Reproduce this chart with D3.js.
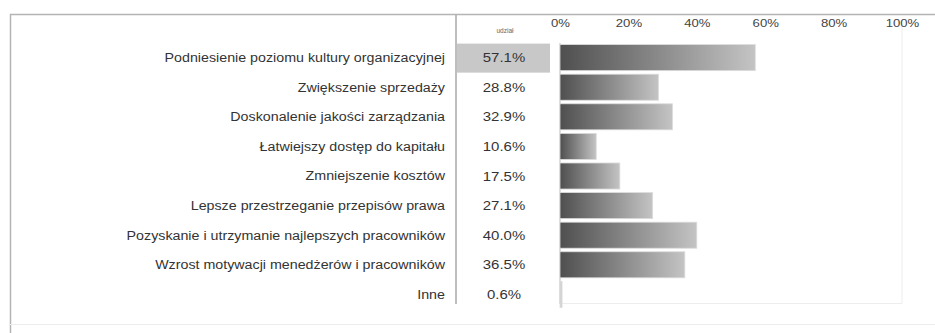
<!DOCTYPE html>
<html>
<head>
<meta charset="utf-8">
<script src="https://cdn.jsdelivr.net/npm/d3@7"></script>
<style>
  html, body { margin: 0; padding: 0; background: #fff; }
  svg { display: block; }
  text { font-family: "Liberation Sans", Arial, sans-serif; }
</style>
</head>
<body>
<svg id="chart" width="935" height="333"></svg>
<script>
// Korzyści z wdrożenia — odsetek wskazań
const categories = [
  "Podniesienie poziomu kultury organizacyjnej",
  "Zwiększenie sprzedaży",
  "Doskonalenie jakości zarządzania",
  "Łatwiejszy dostęp do kapitału",
  "Zmniejszenie kosztów",
  "Lepsze przestrzeganie przepisów prawa",
  "Pozyskanie i utrzymanie najlepszych pracowników",
  "Wzrost motywacji menedżerów i pracowników",
  "Inne"
];
const shares = [57.1, 28.8, 32.9, 10.6, 17.5, 27.1, 40.0, 36.5, 0.6];
const tickValues = [0, 20, 40, 60, 80, 100];
const columnHeader = "udział";

const svg = d3.select("#chart");

const x = d3.scaleLinear().domain([0, 100]).range([560, 902]);
const y = d3.scaleBand().domain(categories).range([44, 308]).paddingInner(0.12).paddingOuter(0.02);

// widen glyphs horizontally by a factor, keeping the anchor point
function stretch(sel, k) {
  sel.each(function () {
    const w = this.getComputedTextLength();
    d3.select(this).attr("textLength", w * k).attr("lengthAdjust", "spacingAndGlyphs");
  });
}

const defs = svg.append("defs");
const grad = defs.append("linearGradient")
  .attr("id", "barGrad").attr("x1", 0).attr("y1", 0).attr("x2", 1).attr("y2", 0);
grad.append("stop").attr("offset", 0).attr("stop-color", "#4f4f4f");
grad.append("stop").attr("offset", 1).attr("stop-color", "#c4c4c4");

// outer frame
svg.append("path")
  .attr("d", "M10.5,333 V14.5 H935")
  .attr("fill", "none").attr("stroke", "#b4b4b4").attr("stroke-width", 1.5);
svg.append("line")
  .attr("x1", 10).attr("x2", 935).attr("y1", 324.5).attr("y2", 324.5)
  .attr("stroke", "#ececec").attr("stroke-width", 1);

// divider between labels and value column
svg.append("line")
  .attr("x1", 456).attr("x2", 456).attr("y1", 15).attr("y2", 304)
  .attr("stroke", "#a8a8a8").attr("stroke-width", 1.5);

// plot area frame
const [x0, x1] = x.range();
svg.append("path")
  .attr("d", `M${x0},43 V303.5 H${x1} V20`)
  .attr("fill", "none").attr("stroke", "#ededed").attr("stroke-width", 1);
svg.append("line")
  .attr("x1", x0).attr("x2", x0).attr("y1", 43).attr("y2", 304)
  .attr("stroke", "#d4d4d4").attr("stroke-width", 1.5);

// top axis with percentage ticks
const axis = svg.append("g")
  .attr("transform", "translate(0,27)")
  .call(d3.axisTop(x).tickValues(tickValues).tickFormat(d => d + "%").tickSize(0).tickPadding(0));
axis.select(".domain").remove();
axis.selectAll("text")
  .attr("font-size", 10.5).attr("fill", "#444")
  .style("font-family", "'Liberation Sans', Arial, sans-serif")
  .call(stretch, 1.25);

// value column header
svg.append("text")
  .attr("x", 505).attr("y", 33)
  .attr("text-anchor", "middle").attr("font-size", 6.5).attr("fill", "#666")
  .text(columnHeader);

// highlight of the leading value
svg.append("rect")
  .attr("x", 457).attr("y", y(categories[0]) - 1)
  .attr("width", 93).attr("height", y.bandwidth() + 3)
  .attr("fill", "#c8c8c8");

// bars
svg.append("g").selectAll("rect")
  .data(categories)
  .join("rect")
  .attr("x", x(0))
  .attr("y", d => y(d))
  .attr("width", (d, i) => Math.max(1.5, x(shares[i]) - x(0)))
  .attr("height", y.bandwidth())
  .attr("fill", (d, i) => shares[i] < 2 ? "#d0d0d0" : "url(#barGrad)")
  .attr("stroke", "#dcdcdc").attr("stroke-width", 0.8);

// category labels
svg.append("g").selectAll("text")
  .data(categories)
  .join("text")
  .attr("x", 445)
  .attr("y", d => y(d) + y.bandwidth() / 2)
  .attr("dy", "0.35em")
  .attr("text-anchor", "end")
  .attr("font-size", 12.5)
  .attr("fill", "#333")
  .text(d => d)
  .call(stretch, 1.14);

// value labels
svg.append("g").selectAll("text")
  .data(categories)
  .join("text")
  .attr("x", 504)
  .attr("y", d => y(d) + y.bandwidth() / 2)
  .attr("dy", "0.35em")
  .attr("text-anchor", "middle")
  .attr("font-size", 13)
  .attr("fill", "#333")
  .text((d, i) => shares[i].toFixed(1) + "%")
  .call(stretch, 1.15);
</script>
</body>
</html>
